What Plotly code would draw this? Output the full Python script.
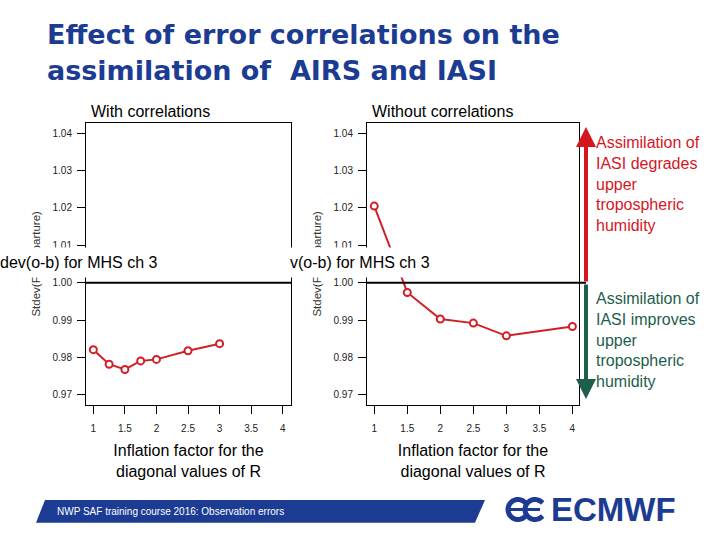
import math
import plotly.graph_objects as go

# inflation factor for the diagonal values of R, and stdev(o-b) for MHS ch 3
infl_with = [1.0, 1.25, 1.5, 1.75, 2.0, 2.5, 3.0]
stdev_with = [0.9821, 0.9782, 0.9768, 0.9791, 0.9795, 0.9818, 0.9837]

infl_without = [1.0, 1.5, 2.0, 2.5, 3.0, 4.0]
stdev_without = [1.0205, 0.9974, 0.9903, 0.9892, 0.9858, 0.9883]

x_ticks = [1, 1.5, 2, 2.5, 3, 3.5, 4]
y_ticks = [0.97, 0.98, 0.99, 1.00, 1.01, 1.02, 1.03, 1.04]

W, H = 720, 540
FONT = "Liberation Sans, Arial, sans-serif"
BLUE = "#1c3c94"
RED = "#d6161e"
GREEN = "#1d5e4c"
LINE_RED = "#d21f26"


def px(x):
    return x / W


def py(y):
    return 1 - y / H


fig = go.Figure()

# the two panels
for xs, ys, xa, ya in [(infl_with, stdev_with, "x", "y"),
                       (infl_without, stdev_without, "x2", "y2")]:
    fig.add_trace(go.Scatter(
        x=xs, y=ys, xaxis=xa, yaxis=ya, mode="lines+markers",
        line=dict(color=LINE_RED, width=2),
        marker=dict(size=7, color="white", line=dict(color=LINE_RED, width=2)),
        showlegend=False, hoverinfo="skip"))

axis_common = dict(showline=True, mirror=True, linecolor="black", linewidth=1,
                   ticks="outside", ticklen=8, tickcolor="black",
                   showgrid=False, zeroline=False,
                   tickfont=dict(family=FONT, size=10, color="#222"))
xtitle = dict(text="Inflation factor for the<br>diagonal values of R",
              font=dict(family=FONT, size=16, color="black"), standoff=11)
ytitle = dict(text="Stdev(FG departure)",
              font=dict(family=FONT, size=11.5, color="#333"), standoff=9)

fig.update_layout(
    width=W, height=H,
    margin=dict(l=0, r=0, t=0, b=0),
    paper_bgcolor="white", plot_bgcolor="white",
    xaxis=dict(domain=[px(86), px(291)], range=[0.884, 4.131], ticklabelstandoff=6,
               tickvals=x_ticks, title=xtitle, anchor="y", **axis_common),
    yaxis=dict(domain=[py(405), py(122.7)], range=[0.9673, 1.0428], ticklabelstandoff=3,
               tickvals=y_ticks, tickformat=".2f", title=ytitle, anchor="x",
               **axis_common),
    xaxis2=dict(domain=[px(367), px(579)], range=[0.89, 4.10], ticklabelstandoff=6,
                tickvals=x_ticks, title=xtitle, anchor="y2", **axis_common),
    yaxis2=dict(domain=[py(405), py(122.7)], range=[0.9673, 1.0428], ticklabelstandoff=3,
                tickvals=y_ticks, tickformat=".2f", title=ytitle, anchor="x2",
                **axis_common),
)

# reference line at 1.00
fig.add_shape(type="line", xref="x domain", yref="y", x0=0, x1=1, y0=1.0, y1=1.0,
              line=dict(color="black", width=2))
fig.add_shape(type="line", xref="x2 domain", yref="y2", x0=0, x1=1.033, y0=1.0, y1=1.0,
              line=dict(color="black", width=2))

ann = []

# slide title
TITLE_FONT = "DejaVu Sans, Liberation Sans, sans-serif"
ann.append(dict(text="<b>Effect of error correlations on the</b>", x=px(45), y=py(35),
                xanchor="left", yanchor="middle",
                font=dict(family=TITLE_FONT, size=27, color=BLUE)))
ann.append(dict(text="<b>assimilation of  AIRS and IASI</b>", x=px(45), y=py(70),
                xanchor="left", yanchor="middle",
                font=dict(family=TITLE_FONT, size=27, color=BLUE)))

# panel titles
ann.append(dict(text="With correlations", x=px(89), y=py(112), xanchor="left",
                yanchor="middle", font=dict(family=FONT, size=16, color="black")))
ann.append(dict(text="Without correlations", x=px(370), y=py(112), xanchor="left",
                yanchor="middle", font=dict(family=FONT, size=16, color="black")))

# overlaid labels with white boxes
ann.append(dict(text="dev(o-b) for MHS ch 3", x=px(-7), y=py(262), xanchor="left",
                yanchor="middle", bgcolor="white", borderpad=6,
                font=dict(family=FONT, size=16, color="black")))
ann.append(dict(text="v(o-b) for MHS ch 3", x=px(283), y=py(262), xanchor="left",
                yanchor="middle", bgcolor="white", borderpad=6,
                font=dict(family=FONT, size=16, color="black")))

# arrows and comments on the right
ann.append(dict(text="", x=px(586), y=py(127), xref="paper", yref="paper",
                showarrow=True, ax=0, ay=156, arrowhead=2, arrowsize=1,
                arrowwidth=4, arrowcolor=RED))
ann.append(dict(text="", x=px(586), y=py(399), xref="paper", yref="paper",
                showarrow=True, ax=0, ay=-116, arrowhead=2, arrowsize=1,
                arrowwidth=4, arrowcolor=GREEN))
ann.append(dict(text="Assimilation of<br>IASI degrades<br>upper<br>tropospheric<br>humidity",
                x=px(594), y=py(183.5), xanchor="left", yanchor="middle", align="left",
                font=dict(family=FONT, size=16, color=RED)))
ann.append(dict(text="Assimilation of<br>IASI improves<br>upper<br>tropospheric<br>humidity",
                x=px(594), y=py(339.5), xanchor="left", yanchor="middle", align="left",
                font=dict(family=FONT, size=16, color=GREEN)))

# footer
ann.append(dict(text="NWP SAF training course 2016: Observation errors",
                x=px(55), y=py(511), xanchor="left", yanchor="middle",
                font=dict(family=FONT, size=10, color="white")))
ann.append(dict(text="<b>ECMWF</b>", x=px(549), y=py(509.5), xanchor="left",
                yanchor="middle", font=dict(family=FONT, size=33, color=BLUE)))

for a in ann:
    a.setdefault("xref", "paper")
    a.setdefault("yref", "paper")
    a.setdefault("showarrow", False)
fig.update_layout(annotations=ann)

# footer banner
banner = [(45, 500), (485, 500), (475, 522.7), (36, 522.7)]
path = "M " + " L ".join(f"{px(x):.5f},{py(y):.5f}" for x, y in banner) + " Z"
fig.add_shape(type="path", xref="paper", yref="paper", path=path,
              fillcolor=BLUE, line=dict(width=0), layer="below")


# logo mark: two open rings and a bar
def arc_path(cx, cy, r, a0, a1, n=24):
    pts = []
    for i in range(n + 1):
        a = math.radians(a0 + (a1 - a0) * i / n)
        pts.append((cx + r * math.cos(a), cy - r * math.sin(a)))
    return "M " + " L ".join(f"{px(x):.5f},{py(y):.5f}" for x, y in pts)


for cx in (518, 535):
    fig.add_shape(type="path", xref="paper", yref="paper",
                  path=arc_path(cx, 509.5, 10, 40, 320),
                  line=dict(color=BLUE, width=5))
fig.add_shape(type="line", xref="paper", yref="paper",
              x0=px(507), x1=px(540), y0=py(509.5), y1=py(509.5),
              line=dict(color=BLUE, width=3))

fig.write_html("out.html", config={"displayModeBar": False},
               post_script="document.body.style.margin = '0';")
